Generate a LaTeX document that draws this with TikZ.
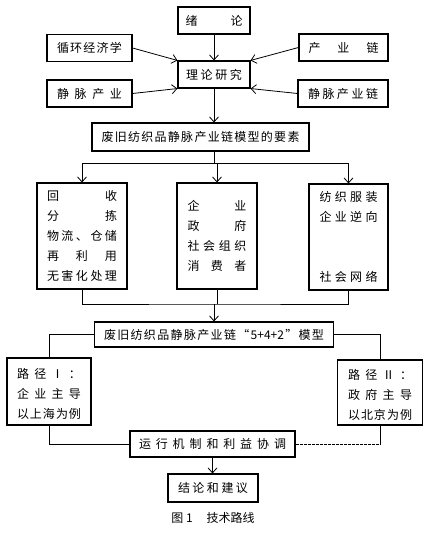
\documentclass[tikz,border=0pt]{standalone}
\usepackage{fontspec}
\setmainfont{Noto Sans CJK SC}
\usetikzlibrary{arrows.meta}
% spread the characters of #2 over the width #1
\newcommand\spread[2]{\makebox[#1][s]{\spreadfirst#2\relax}}
\def\spreadfirst#1{#1\spreadnext}
\def\spreadnext#1{\ifx\relax#1\else\hfill#1\expandafter\spreadnext\fi}
\begin{document}
\begin{tikzpicture}[x=1pt, y=-1pt,
    box/.style={draw, line width=1.1pt, inner sep=0pt, align=center, font=\fontsize{12}{20}\selectfont},
    line/.style={line width=0.8pt},
    arr/.style={line, -{Straight Barb[length=5pt, width=9pt]}}]
    \useasboundingbox (0,0) rectangle (430,535);
    % theory part
    \node[box, minimum width=72pt, minimum height=27pt] (xulun) at (214,20.5) {\spread{57pt}{绪论}};
    \node[box, minimum width=85pt, minimum height=27pt] (xunhuan) at (89.5,48) {\spread{65pt}{循环经济学}};
    \node[box, minimum width=89pt, minimum height=27pt] (chanye) at (343.5,47.5) {\spread{70pt}{产业链}};
    \node[box, minimum width=72pt, minimum height=27pt] (lilun) at (214,74.5) {\spread{56pt}{理论研究}};
    \node[box, minimum width=85pt, minimum height=27pt] (jingmai) at (89.5,93.5) {\spread{65pt}{静脉产业}};
    \node[box, minimum width=90pt, minimum height=27pt] (jingmailian) at (343,93.5) {\spread{70pt}{静脉产业链}};
    \draw[arr] (xulun) -- (lilun);
    \draw[arr] (xunhuan.east) -- (lilun.north west);
    \draw[arr] (chanye.west) -- (lilun.north east);
    \draw[arr] (jingmai.east) -- (lilun.south west);
    \draw[arr] (jingmailian.west) -- (lilun.south east);
    % elements
    \node[box, minimum width=217pt, minimum height=28pt] (yaosu) at (200.5,137) {\spread{198pt}{废旧纺织品静脉产业链模型的要素}};
    \draw[arr] (lilun.south) -- (lilun.south |- yaosu.north);
    \node[box, minimum width=90pt, minimum height=106pt] (fenjian) at (82,236)
        {\spread{70pt}{回收}\\ \spread{70pt}{分拣}\\ \spread{70pt}{物流、仓储}\\ \spread{70pt}{再利用}\\ \spread{70pt}{无害化处理}};
    \node[box, minimum width=80pt, minimum height=106pt] (zhuti) at (217,236)
        {\spread{59pt}{企业}\\ \spread{59pt}{政府}\\ \spread{59pt}{社会组织}\\ \spread{59pt}{消费者}};
    \node[box, minimum width=79pt, minimum height=106pt] (wangluo) at (348.5,237)
        {\spread{58pt}{纺织服装}\\ \spread{58pt}{企业逆向}\\ \mbox{}\\ \mbox{}\\ \spread{58pt}{社会网络}};
    \coordinate (j1) at (214,163);
    \draw[line] (lilun.south |- yaosu.south) -- (j1);
    \draw[line] (fenjian.north |- j1) -- (wangluo.north |- j1);
    \draw[arr] (fenjian.north |- j1) -- (fenjian.north);
    \draw[arr] (zhuti.north |- j1) -- (zhuti.north);
    \draw[arr] (wangluo.north |- j1) -- (wangluo.north);
    % model
    \node[box, minimum width=239pt, minimum height=25pt] (moxing) at (214,334.5) {\spread{220pt}{废旧纺织品静脉产业链“{5+4+2}”模型}};
    \coordinate (j2) at (214,304);
    \draw[line] (fenjian.south) |- (j2) -| (wangluo.south);
    \draw[line] (zhuti.south) -- (zhuti.south |- j2);
    \draw[arr] (j2) -- (moxing.north);
    % paths
    \node[box, minimum width=84pt, minimum height=67pt] (lujing1) at (49,391.5)
        {\rule{0pt}{16pt}\spread{64pt}{路径Ⅰ：}\\ \spread{64pt}{企业主导}\\ \spread{64pt}{以上海为例}};
    \node[box, minimum width=85pt, minimum height=65pt] (lujing2) at (380,392.5)
        {\rule{0pt}{16pt}\spread{64pt}{路径Ⅱ：}\\ \spread{64pt}{政府主导}\\ \spread{64pt}{以北京为例}};
    \draw[line] (moxing.west) -| (lujing1.north);
    \draw[line] (moxing.east) -| (lujing2.north);
    % mechanism and conclusion
    \node[box, minimum width=165pt, minimum height=26pt] (jizhi) at (212.5,444) {\spread{147pt}{运行机制和利益协调}};
    \node[box, minimum width=90pt, minimum height=28pt] (jielun) at (213,488) {\spread{70pt}{结论和建议}};
    \draw[line] (lujing1.south) |- (jizhi.west);
    \draw[line, dash pattern=on 3pt off 1pt] (jizhi.east) -- (jizhi.east -| lujing2.south);
    \draw[line] (jizhi.east -| lujing2.south) -- (lujing2.south);
    \draw[arr] (jizhi.south) -- (jizhi.south |- jielun.north);
    \node[font=\fontsize{12}{14}\selectfont] (caption) at (213,518) {图\ 1\hspace{14pt}技术路线};
\end{tikzpicture}
\end{document}
